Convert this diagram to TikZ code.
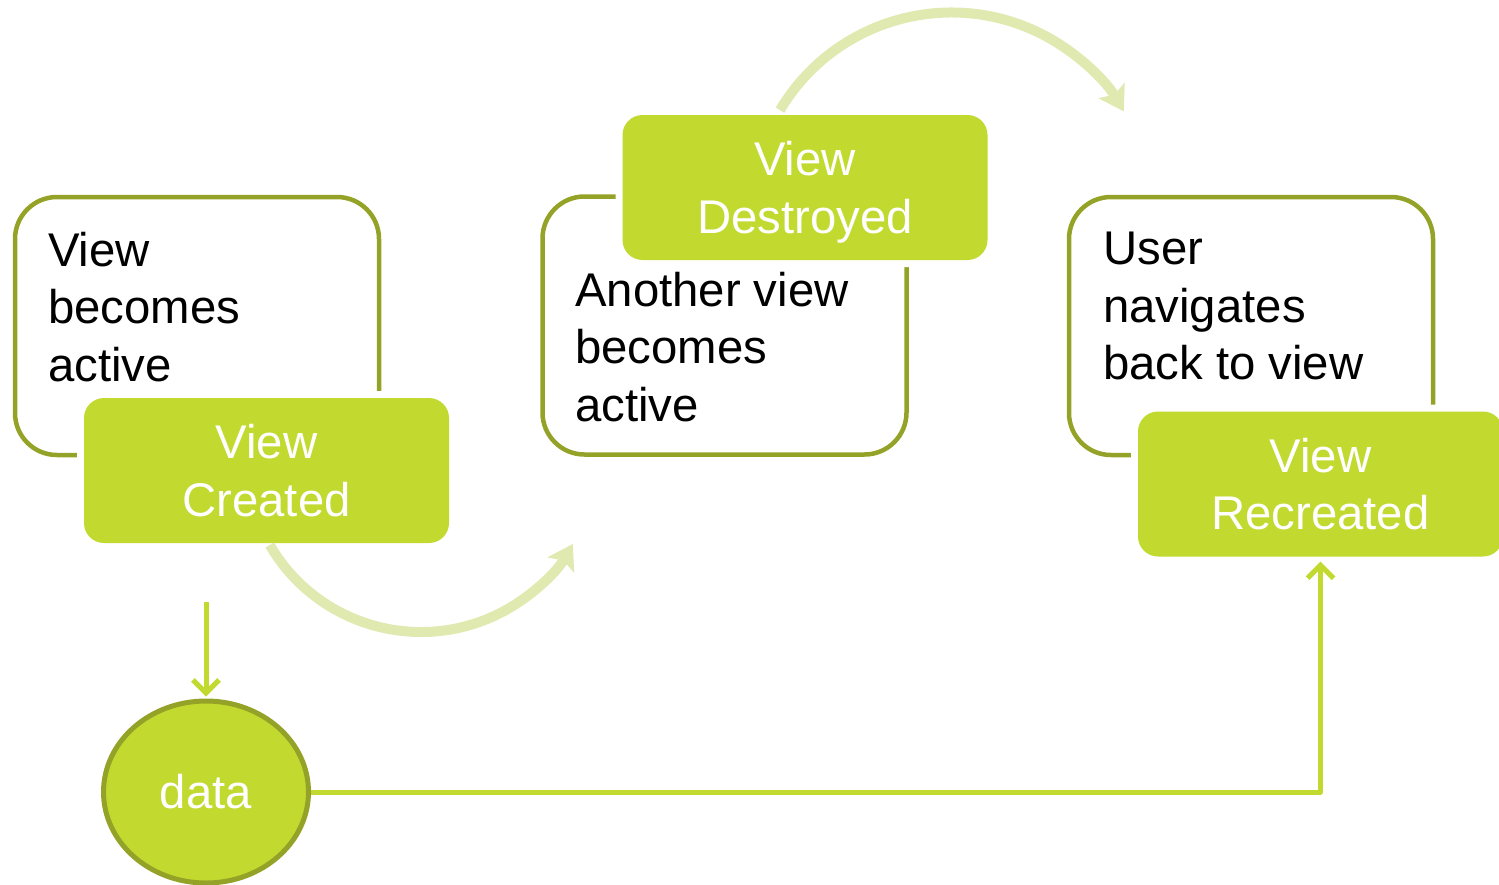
\documentclass[tikz,border=0pt]{standalone}
\usepackage{fontspec}
\setmainfont{Liberation Sans}
\usetikzlibrary{arrows.meta,shapes.geometric,calc}
\definecolor{vgreen}{HTML}{C2D92F}
\definecolor{volive}{HTML}{94A327}
\definecolor{vpale}{HTML}{DFE9B0}
\begin{document}
\begin{tikzpicture}[x=1pt,y=-1pt,
  font=\fontsize{47.3pt}{57.3pt}\selectfont,
  outbox/.style={rectangle, rounded corners=42pt, draw=volive, line width=4.5pt,
    minimum width=364pt, minimum height=258pt, inner sep=0pt},
  boxtext/.style={anchor=north west, inner sep=0pt, align=left, text=black},
  greenbox/.style={rectangle, rounded corners=20pt, fill=vgreen,
    minimum width=365pt, minimum height=145pt, inner sep=0pt,
    text=white, align=center, text depth=0pt,
    preaction={draw=white, line width=14pt}},
  datanode/.style={ellipse, draw=volive, line width=5pt, fill=vgreen,
    minimum width=205pt, minimum height=182pt, inner sep=0pt, text=white},
  dline/.style={draw=vgreen, line width=5pt, line join=round,
    -{Straight Barb[length=13pt,width=26pt]}},
  cycle arrow/.style={draw=vpale, line width=10pt,
    -{Stealth[length=24pt,width=30pt,inset=5pt]}}
]
\useasboundingbox (0,0) rectangle (1499,884);

% outlined state boxes
\node[outbox] (act1) at (197,326) {};
\node[outbox] (act2) at (724.5,325.5) {};
\node[outbox] (act3) at (1251,326) {};

% filled event boxes
\node[greenbox] (created) at (266.5,470.5) {View\\Created};
\node[greenbox] (destroyed) at (805,187.5) {View\\Destroyed};
\node[greenbox] (recreated) at (1320.5,484) {View\\Recreated};

% state descriptions
\node[boxtext] (t1) at (48,232) {View\\becomes\\active};
\node[boxtext] (t2) at (575,272) {Another view\\becomes\\active};
\node[boxtext] (t3) at (1103,232) {User\\navigates\\back to view};

% data store
\node[datanode] (data) at (206,792) {data};

% curved transition arrows
\coordinate (c1) at (421,457);
\coordinate (c2) at (951.5,212);
\draw[cycle arrow] ($(c1)+(210.2:175pt)$) arc[start angle=210.2, end angle=330.2, radius=175pt];
\draw[cycle arrow] ($(c2)+(149.3:199.5pt)$) arc[start angle=149.3, end angle=30.3, radius=199.5pt];

% data flow
\coordinate (dsrc) at (206,602);
\draw[dline] (dsrc) -- ($(data.north)+(0,-2)$);
\draw[dline] (data.east) -| ($(recreated.south)+(0,5)$);
\end{tikzpicture}
\end{document}
